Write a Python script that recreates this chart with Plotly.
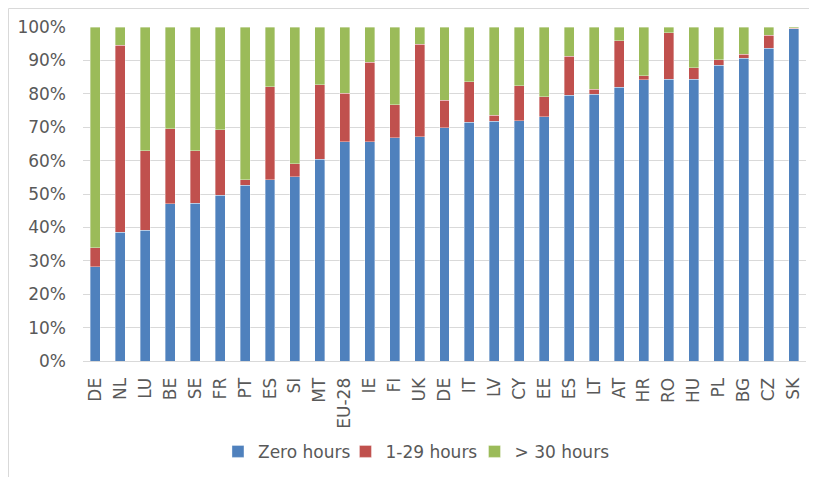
import plotly.graph_objects as go

categories = ["DE", "NL", "LU", "BE", "SE", "FR", "PT", "ES", "SI", "MT", "EU-28", "IE", "FI", "UK",
              "DE", "IT", "LV", "CY", "EE", "ES", "LT", "AT", "HR", "RO", "HU", "PL", "BG", "CZ", "SK"]
zero_hours = [28.2, 38.5, 39.1, 47.1, 47.3, 49.6, 52.6, 54.2, 55.2, 60.4, 65.7, 65.7, 66.9, 67.1,
              69.8, 71.5, 71.8, 71.9, 73.1, 79.5, 79.8, 81.9, 84.2, 84.3, 84.3, 88.5, 90.6, 93.6, 99.5]
h1_29 = [5.7, 56.0, 23.9, 22.5, 15.7, 19.7, 1.6, 27.9, 3.9, 22.3, 14.5, 23.7, 9.8, 27.7,
         8.2, 12.1, 1.8, 10.5, 6.0, 11.8, 1.6, 14.0, 1.2, 14.0, 3.5, 1.7, 1.3, 3.9, 0.1]
over_30 = [66.1, 5.5, 37.0, 30.4, 37.0, 30.7, 45.8, 17.9, 40.9, 17.3, 19.8, 10.6, 23.3, 5.2,
           22.0, 16.4, 26.4, 17.6, 20.9, 8.7, 18.6, 4.1, 14.6, 1.7, 12.2, 9.8, 8.1, 2.5, 0.4]
series_names = ["Zero hours", "1-29 hours", "> 30 hours"]
colors = ["#4F81BD", "#C0504D", "#9BBB59"]
y_ticks = [0, 10, 20, 30, 40, 50, 60, 70, 80, 90, 100]

legend_ids = ["legend", "legend2", "legend3"]
legend_x = [0.1867, 0.363, 0.5415]

positions = list(range(len(categories)))
fig = go.Figure()
for name, vals, col, lg in zip(series_names, [zero_hours, h1_29, over_30], colors, legend_ids):
    fig.add_trace(go.Bar(
        x=positions, y=[v / 100 for v in vals], name=name, legend=lg,
        marker=dict(color=col, line=dict(color="rgba(255,255,255,0.45)", width=0.8)),
    ))

font_family = "DejaVu Sans, Verdana, sans-serif"
legend_common = dict(orientation="h", xanchor="left", y=-0.272, yanchor="middle",
                     font=dict(size=17, color="#595959"), itemwidth=30,
                     bgcolor="rgba(0,0,0,0)")
fig.update_layout(
    barmode="stack",
    bargap=0.6,
    width=809, height=469,
    margin=dict(l=75, r=11, t=19, b=116, autoexpand=False),
    paper_bgcolor="white", plot_bgcolor="white",
    font=dict(family=font_family, size=17, color="#595959"),
    showlegend=True,
    legend=dict(x=legend_x[0], **legend_common),
    legend2=dict(x=legend_x[1], **legend_common),
    legend3=dict(x=legend_x[2], **legend_common),
    xaxis=dict(tickmode="array", tickvals=positions, ticktext=categories,
               range=[-0.5, len(categories) - 0.5], tickangle=-90, automargin=False,
               showgrid=False, showline=True, linecolor="#d9d9d9", linewidth=1,
               ticks="", ticklabelstandoff=9, tickfont=dict(size=17)),
    yaxis=dict(range=[0, 1], tickvals=[t / 100 for t in y_ticks],
               ticktext=[f"{t}%" for t in y_ticks], automargin=False,
               showgrid=True, gridcolor="#d9d9d9", gridwidth=1,
               zeroline=False, showline=False, ticks="", ticklabelstandoff=16,
               tickfont=dict(size=17)),
    shapes=[dict(type="rect", xref="paper", yref="paper",
                 x0=-0.103, x1=1.0145, y0=-0.6, y1=1.0554,
                 line=dict(color="#d9d9d9", width=1), fillcolor="rgba(0,0,0,0)", layer="below")],
)

fig.write_html("out.html")
